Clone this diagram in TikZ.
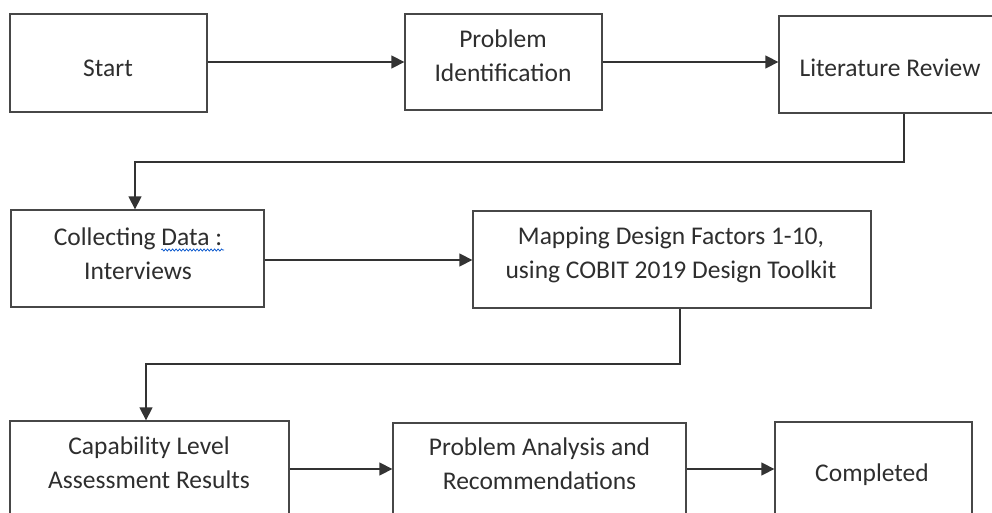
\documentclass[tikz,border=0pt]{standalone}
\usepackage{fontspec}
\setmainfont{Carlito}
\usetikzlibrary{arrows.meta,decorations.pathmorphing}
\begin{document}
\begin{tikzpicture}[x=1pt,y=-1pt,
  box/.style={draw=black!72,line width=1.3pt,rectangle,inner sep=0pt},
  txt/.style={text=black!82,font=\fontsize{25.5}{34}\selectfont,align=center,anchor=base,inner sep=0pt},
  arr/.style={draw=black!80,line width=1.3pt,-{Triangle[length=13pt,width=13pt]}},
  seg/.style={draw=black!72,line width=1.3pt}]
\useasboundingbox (0,0) rectangle (992,513);
\clip (0,0) rectangle (992,513);
\fill[white] (0,0) rectangle (992,513);
% boxes
\node[box,minimum width=197pt,minimum height=98pt] (start) at (108.5,63) {};
\node[box,minimum width=197pt,minimum height=96pt] (pi) at (503.5,62) {};
\node[box,minimum width=224pt,minimum height=97pt] (lr) at (891,64.5) {};
\node[box,minimum width=253pt,minimum height=97pt] (cd) at (137.5,258.5) {};
\node[box,minimum width=398pt,minimum height=97pt] (map) at (672,259.5) {};
\node[box,minimum width=279pt,minimum height=97pt] (cap) at (149.5,469.5) {};
\node[box,minimum width=293pt,minimum height=97pt] (pa) at (539.5,471.5) {};
\node[box,minimum width=197pt,minimum height=97pt] (comp) at (873.5,470.5) {};
% texts (anchor = baseline of last line)
\node[txt] (startT) at (108,77) {Start};
\node[txt] (piT) at (503,82) {Problem\\Identification};
\node[txt] (lrT) at (890,77) {Literature Review};
\node[txt] (cdT) at (138,279) {Collecting Data :\\Interviews};
\node[txt] (mapT) at (671,278) {Mapping Design Factors 1-10,\\using COBIT 2019 Design Toolkit};
\node[txt] (capT) at (149,488) {Capability Level\\Assessment Results};
\node[txt] (paT) at (539.5,489) {Problem Analysis and\\Recommendations};
\node[txt] (compT) at (872,481) {Completed};
% spell-check underline
\coordinate (w1) at (161,250);
\coordinate (w2) at (224,250);
\draw[draw=blue!60!cyan!80!black,line width=0.7pt,decorate,decoration={snake,amplitude=1.1pt,segment length=3.5pt}] (w1) -- (w2);
% connectors
\coordinate (y1) at (0,62);
\draw[arr] (start.east |- y1) -- (pi.west |- y1);
\draw[arr] (pi.east |- y1) -- (lr.west |- y1);
\coordinate (k1) at (904,162);
\coordinate (k2) at (135,162);
\draw[arr] (lr.south -| k1) -- (k1) -- (k2) -- (cd.north -| k2);
\coordinate (y2) at (0,260);
\draw[arr] (cd.east |- y2) -- (map.west |- y2);
\coordinate (k3) at (680,364);
\coordinate (k4) at (146,364);
\draw[arr] (map.south -| k3) -- (k3) -- (k4) -- (cap.north -| k4);
\coordinate (y3) at (0,469);
\draw[arr] (cap.east |- y3) -- (pa.west |- y3);
\draw[arr] (pa.east |- y3) -- (comp.west |- y3);
\end{tikzpicture}
\end{document}
